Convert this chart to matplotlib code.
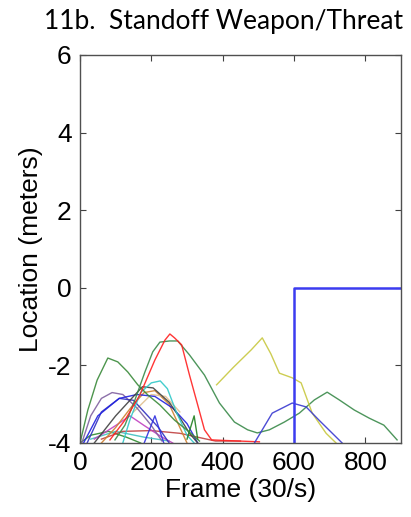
import matplotlib.pyplot as plt

plt.rcParams['axes.unicode_minus'] = False

# ---- data (frame, location in meters) ----
green_early_x = [0, 22, 48, 78, 106, 134, 162, 190, 224, 265, 307, 335]
green_early_y = [-4, -3.15, -2.38, -1.81, -1.91, -2.17, -2.5, -2.76, -3.02, -3.41, -3.72, -3.95]

green_long_x = [98, 126, 154, 182, 204, 224, 251, 274, 307, 349, 391, 433, 470, 497,
                531, 573, 615, 657, 693, 727, 769, 811, 852, 889]
green_long_y = [-3.92, -3.54, -2.89, -2.17, -1.65, -1.40, -1.37, -1.37, -1.73, -2.25, -2.97,
                -3.46, -3.66, -3.74, -3.66, -3.46, -3.23, -2.89, -2.69, -2.89, -3.15, -3.36,
                -3.54, -3.92]

red_x = [84, 126, 168, 210, 238, 252, 265, 285, 307, 330, 349, 369, 447, 503]
red_y = [-3.92, -3.41, -2.76, -1.86, -1.35, -1.19, -1.29, -1.47, -2.25, -3.02, -3.66, -3.92, -3.95, -3.97]

yellow_x = [383, 430, 480, 511, 535, 559, 595, 620, 651, 690, 718]
yellow_y = [-2.5, -2.05, -1.6, -1.29, -1.7, -2.2, -2.32, -2.45, -3.23, -3.75, -4]

blue_right_x = [489, 539, 595, 634, 670, 735]
blue_right_y = [-4, -3.23, -2.97, -3.07, -3.41, -4]

step_x = [600, 600, 900]
step_y = [-4, 0, 0]

gray_x = [40, 100, 150, 175, 205, 250, 280, 307, 330]
gray_y = [-4, -3.3, -2.8, -2.55, -2.58, -2.95, -3.35, -3.75, -4]

purple_x = [5, 30, 60, 90, 120, 160, 200, 230]
purple_y = [-4, -3.3, -2.85, -2.7, -2.75, -3.1, -3.55, -3.95]

blue_a_x = [10, 50, 110, 160, 210, 260, 300, 330]
blue_a_y = [-4, -3.3, -2.85, -2.75, -2.8, -3.1, -3.5, -4]

blue_b_x = [20, 60, 110, 150, 200, 220, 250]
blue_b_y = [-4, -3.2, -2.85, -2.9, -3.4, -3.6, -4]

blue_tri_x = [180, 210, 235]
blue_tri_y = [-4, -3.3, -4]

cyan_x = [120, 140, 170, 200, 225, 245, 270, 300, 320]
cyan_y = [-4, -3.4, -2.7, -2.45, -2.4, -2.6, -3.2, -3.8, -4]

cyan_low_x = [30, 100, 180, 250]
cyan_low_y = [-3.9, -3.7, -3.85, -3.95]

orange_x = [60, 100, 150, 180, 210, 250, 280, 300]
orange_y = [-4, -3.6, -3.0, -2.7, -2.65, -3.0, -3.6, -4]

magenta_x = [40, 100, 140, 180, 230, 260]
magenta_y = [-3.9, -3.55, -3.3, -3.55, -3.85, -4]

red_low_x = [60, 120, 200, 280, 330, 380, 450]
red_low_y = [-3.9, -3.7, -3.68, -3.75, -3.85, -3.95, -3.95]

green_spike_x = [300, 320, 330]
green_spike_y = [-3.9, -3.3, -3.9]

green_low_x = [0, 30, 80, 130, 170]
green_low_y = [-4, -3.8, -3.7, -3.85, -4]

tan_x = [150, 200, 240, 280]
tan_y = [-3.2, -2.75, -2.8, -3.2]

series = [
    (green_low_x, green_low_y, '#2e8b2e'),
    (cyan_low_x, cyan_low_y, '#40c0c0'),
    (red_low_x, red_low_y, '#c04040'),
    (magenta_x, magenta_y, '#c040c0'),
    (orange_x, orange_y, '#d08030'),
    (tan_x, tan_y, '#e0c090'),
    (purple_x, purple_y, '#8060a0'),
    (blue_b_x, blue_b_y, '#3030c0'),
    (blue_a_x, blue_a_y, '#2020e0'),
    (blue_tri_x, blue_tri_y, '#3030e0'),
    (gray_x, gray_y, '#404040'),
    (cyan_x, cyan_y, '#30c8c8'),
    (green_spike_x, green_spike_y, '#208020'),
    (green_early_x, green_early_y, '#3a8a3a'),
    (green_long_x, green_long_y, '#3a8a4a'),
    (red_x, red_y, '#ff2020'),
    (yellow_x, yellow_y, '#c8c840'),
    (blue_right_x, blue_right_y, '#3838d0'),
]

fig = plt.figure(figsize=(4.11, 5.17), dpi=100)
ax = fig.add_axes([80 / 411, 74 / 517, 321 / 411, 388 / 517])

for xs, ys, col in series:
    ax.plot(xs, ys, color=col, linewidth=1.0, alpha=0.9)
ax.plot(step_x, step_y, color='#3c3cf0', linewidth=1.8)

ax.set_xlim(0, 900)
ax.set_ylim(-4, 6)
ax.set_xticks([0, 200, 400, 600, 800])
ax.set_yticks([-4, -2, 0, 2, 4, 6])
ax.tick_params(direction='in', length=4, width=0.8, color='#404040',
               top=True, right=True, labelsize=19, pad=6)
for lbl in ax.get_xticklabels() + ax.get_yticklabels():
    lbl.set_family('Liberation Sans')
for s in ax.spines.values():
    s.set_color('#505050')
    s.set_linewidth(1.0)

ax.set_xlabel('Frame (30/s)', fontsize=19, family='Liberation Sans', labelpad=2)
ax.set_ylabel('Location (meters)', fontsize=19, family='Liberation Sans', labelpad=4)
fig.text(224 / 411, 1 - 22 / 517, '11b.  Standoff Weapon/Threat', ha='center', va='center',
         fontsize=19, family='Lato')

plt.savefig('out.png', dpi=100)
